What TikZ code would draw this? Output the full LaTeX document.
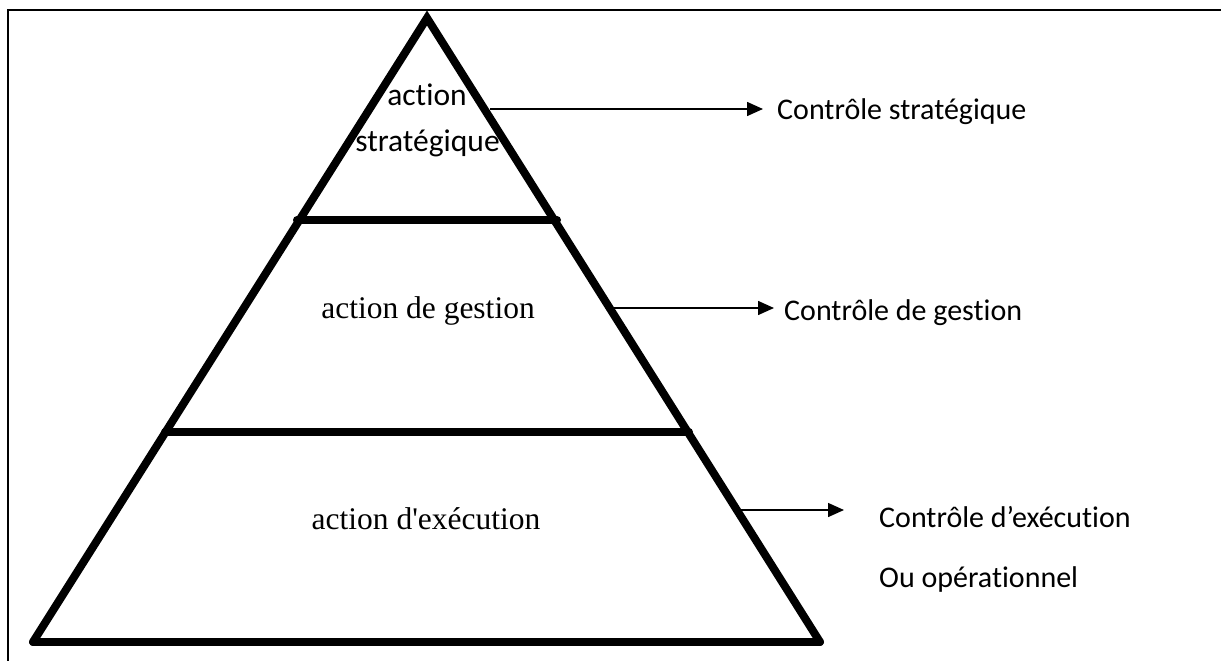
\documentclass[tikz,border=0pt]{standalone}
\usepackage{fontspec}
\setmainfont{Liberation Serif}[Ligatures=TeXOff]
\newfontfamily\calibri{Carlito}[Ligatures=NoCommon]
\usetikzlibrary{arrows.meta}
\tikzset{
  frameline/.style={line width=1.5pt, black},
  pyr/.style={line width=8pt, black, line cap=round},
  ctrlarrow/.style={line width=1.5pt, -{Triangle[length=16pt,width=14pt]}},
  sanslabel/.style={inner sep=0pt, font=\calibri\fontsize{30}{36}\selectfont},
  toplabel/.style={inner sep=0pt, font=\calibri\fontsize{31.5}{38}\selectfont},
  seriflabel/.style={inner sep=0pt, font=\fontsize{31.5}{38}\selectfont}
}
\begin{document}
\begin{tikzpicture}[x=1pt,y=-1pt]
\useasboundingbox (0,0) rectangle (1221,661);
% frame (left and top sides)
\draw[frameline] (8,661) -- (8,10) -- (1221,10);
% pyramid
\coordinate (apex) at (427,18);
\coordinate (bl) at (33,642);
\coordinate (br) at (820,642);
\draw[pyr, line join=miter] (bl) -- (apex) -- (br);
\draw[pyr] (bl) -- (br);
\coordinate (l1) at (297,220);
\coordinate (r1) at (557,220);
\coordinate (l2) at (165,432);
\coordinate (r2) at (689,432);
\draw[pyr] (l1) -- (r1);
\draw[pyr] (l2) -- (r2);
% labels inside the pyramid
\node[toplabel, anchor=base] (a1) at (427,105) {action};
\node[toplabel, anchor=base] (a2) at (427.5,151) {stratégique};
\node[seriflabel, anchor=base] (g) at (428,318) {action de gestion};
\node[seriflabel, anchor=base] (x) at (426,529) {action d'exécution};
% control labels
\node[sanslabel, anchor=base west] (cs) at (777,119) {Contrôle stratégique};
\node[sanslabel, anchor=base west] (cg) at (784,320) {Contrôle de gestion};
\node[sanslabel, anchor=base west] (ce) at (879,527) {Contrôle d’exécution};
\node[sanslabel, anchor=base west] (co) at (879,587) {Ou opérationnel};
% arrows
\coordinate (s1) at (490,109);
\coordinate (e1) at (763,109);
\coordinate (s2) at (613,308);
\coordinate (e2) at (774,308);
\coordinate (s3) at (741,510);
\coordinate (e3) at (844,510);
\draw[ctrlarrow] (s1) -- (e1);
\draw[ctrlarrow] (s2) -- (e2);
\draw[ctrlarrow] (s3) -- (e3);
\end{tikzpicture}
\end{document}
